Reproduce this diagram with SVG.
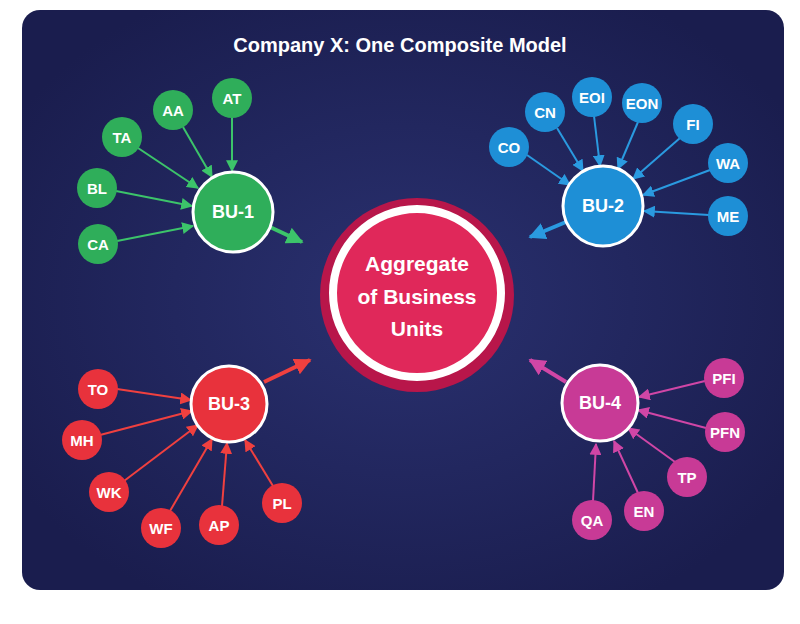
<svg xmlns="http://www.w3.org/2000/svg" width="800" height="624" viewBox="0 0 800 624">
<defs>
<radialGradient id="bg" cx="50%" cy="50%" r="60%"><stop offset="0" stop-color="#2a3170"/><stop offset="1" stop-color="#1a1d4e"/></radialGradient>
<marker id="ag" viewBox="0 0 10 10" refX="9" refY="5" markerWidth="12" markerHeight="12" markerUnits="userSpaceOnUse" orient="auto"><path d="M0,0L10,5L0,10z" fill="#3cc46a"/></marker>
<marker id="ab" viewBox="0 0 10 10" refX="9" refY="5" markerWidth="12" markerHeight="12" markerUnits="userSpaceOnUse" orient="auto"><path d="M0,0L10,5L0,10z" fill="#2a9ae0"/></marker>
<marker id="ar" viewBox="0 0 10 10" refX="9" refY="5" markerWidth="12" markerHeight="12" markerUnits="userSpaceOnUse" orient="auto"><path d="M0,0L10,5L0,10z" fill="#f0403f"/></marker>
<marker id="am" viewBox="0 0 10 10" refX="9" refY="5" markerWidth="12" markerHeight="12" markerUnits="userSpaceOnUse" orient="auto"><path d="M0,0L10,5L0,10z" fill="#d046a6"/></marker>
<marker id="agT" viewBox="0 0 10 10" refX="9" refY="5" markerWidth="17" markerHeight="17" markerUnits="userSpaceOnUse" orient="auto"><path d="M0,0L10,5L0,10z" fill="#3cc46a"/></marker>
<marker id="abT" viewBox="0 0 10 10" refX="9" refY="5" markerWidth="17" markerHeight="17" markerUnits="userSpaceOnUse" orient="auto"><path d="M0,0L10,5L0,10z" fill="#2a9ae0"/></marker>
<marker id="arT" viewBox="0 0 10 10" refX="9" refY="5" markerWidth="17" markerHeight="17" markerUnits="userSpaceOnUse" orient="auto"><path d="M0,0L10,5L0,10z" fill="#f0403f"/></marker>
<marker id="amT" viewBox="0 0 10 10" refX="9" refY="5" markerWidth="17" markerHeight="17" markerUnits="userSpaceOnUse" orient="auto"><path d="M0,0L10,5L0,10z" fill="#d046a6"/></marker>
</defs>
<style>
text{font-family:"Liberation Sans",Arial,sans-serif;font-weight:bold;fill:#fff;text-anchor:middle;dominant-baseline:central}
.s{font-size:15px}.b{font-size:18px}
.g{fill:#2fae5a}.bl{fill:#1e8fd6}.r{fill:#e8323c}.m{fill:#c83a96}
.big{stroke:#fff;stroke-width:3}
.lg{stroke:#3cc46a;stroke-width:2;fill:none}.lb{stroke:#2a9ae0;stroke-width:2;fill:none}.lr{stroke:#f0403f;stroke-width:2;fill:none}.lm{stroke:#d046a6;stroke-width:2;fill:none}
.t{stroke-width:4}
</style>
<rect x="22" y="10" width="762" height="580" rx="18" fill="url(#bg)"/>
<text x="400" y="45" style="font-size:20px">Company X: One Composite Model</text>
<g id="connectors">
<line class="lg" x1="232" y1="117" x2="232" y2="171" marker-end="url(#ag)"/>
<line class="lg" x1="183" y1="127" x2="212" y2="177" marker-end="url(#ag)"/>
<line class="lg" x1="138" y1="148" x2="198" y2="188" marker-end="url(#ag)"/>
<line class="lg" x1="116" y1="191" x2="192" y2="206" marker-end="url(#ag)"/>
<line class="lg" x1="117" y1="241" x2="193" y2="226" marker-end="url(#ag)"/>
<line class="lg t" x1="270" y1="227" x2="302" y2="242" marker-end="url(#agT)"/>
<line class="lb" x1="527" y1="155" x2="570" y2="185" marker-end="url(#ab)"/>
<line class="lb" x1="557" y1="128" x2="583" y2="171" marker-end="url(#ab)"/>
<line class="lb" x1="594" y1="116" x2="600" y2="166" marker-end="url(#ab)"/>
<line class="lb" x1="638" y1="122" x2="618" y2="169" marker-end="url(#ab)"/>
<line class="lb" x1="680" y1="138" x2="633" y2="179" marker-end="url(#ab)"/>
<line class="lb" x1="710" y1="170" x2="643" y2="195" marker-end="url(#ab)"/>
<line class="lb" x1="709" y1="215" x2="644" y2="211" marker-end="url(#ab)"/>
<line class="lb t" x1="566" y1="222" x2="530" y2="237" marker-end="url(#abT)"/>
<line class="lr" x1="117" y1="389" x2="191" y2="400" marker-end="url(#ar)"/>
<line class="lr" x1="100" y1="435" x2="192" y2="411" marker-end="url(#ar)"/>
<line class="lr" x1="124" y1="481" x2="198" y2="425" marker-end="url(#ar)"/>
<line class="lr" x1="170" y1="511" x2="212" y2="439" marker-end="url(#ar)"/>
<line class="lr" x1="222" y1="506" x2="227" y2="443" marker-end="url(#ar)"/>
<line class="lr" x1="273" y1="486" x2="245" y2="440" marker-end="url(#ar)"/>
<line class="lr t" x1="264" y1="382" x2="310" y2="360" marker-end="url(#arT)"/>
<line class="lm" x1="705" y1="381" x2="639" y2="397" marker-end="url(#am)"/>
<line class="lm" x1="706" y1="428" x2="638" y2="410" marker-end="url(#am)"/>
<line class="lm" x1="675" y1="462" x2="628" y2="428" marker-end="url(#am)"/>
<line class="lm" x1="638" y1="493" x2="614" y2="441" marker-end="url(#am)"/>
<line class="lm" x1="593" y1="501" x2="596" y2="444" marker-end="url(#am)"/>
<line class="lm t" x1="566" y1="382" x2="530" y2="360" marker-end="url(#amT)"/>
</g>
<g id="center">
<circle cx="417" cy="295" r="97" fill="#b8164a"/>
<circle cx="417" cy="293" r="84" fill="#e0285a" stroke="#fff" stroke-width="8"/>
<text x="417" y="263" style="font-size:21px">Aggregate</text>
<text x="417" y="296" style="font-size:21px">of Business</text>
<text x="417" y="328" style="font-size:21px">Units</text>
</g>
<g id="bu1"><circle class="g big" cx="233" cy="212" r="40"/><text class="b" x="233" y="212">BU-1</text></g>
<g id="at"><circle class="g" cx="232" cy="98" r="20"/><text class="s" x="232" y="98">AT</text></g>
<g id="aa"><circle class="g" cx="173" cy="110" r="20"/><text class="s" x="173" y="110">AA</text></g>
<g id="ta"><circle class="g" cx="122" cy="137" r="20"/><text class="s" x="122" y="137">TA</text></g>
<g id="bl"><circle class="g" cx="97" cy="188" r="20"/><text class="s" x="97" y="188">BL</text></g>
<g id="ca"><circle class="g" cx="98" cy="244" r="20"/><text class="s" x="98" y="244">CA</text></g>
<g id="bu2"><circle class="bl big" cx="603" cy="206" r="40"/><text class="b" x="603" y="206">BU-2</text></g>
<g id="co"><circle class="bl" cx="509" cy="147" r="20"/><text class="s" x="509" y="147">CO</text></g>
<g id="cn"><circle class="bl" cx="545" cy="112" r="20"/><text class="s" x="545" y="112">CN</text></g>
<g id="eoi"><circle class="bl" cx="592" cy="97" r="20"/><text class="s" x="592" y="97">EOI</text></g>
<g id="eon"><circle class="bl" cx="642" cy="103" r="20"/><text class="s" x="642" y="103">EON</text></g>
<g id="fi"><circle class="bl" cx="693" cy="124" r="20"/><text class="s" x="693" y="124">FI</text></g>
<g id="wa"><circle class="bl" cx="728" cy="163" r="20"/><text class="s" x="728" y="163">WA</text></g>
<g id="me"><circle class="bl" cx="728" cy="216" r="20"/><text class="s" x="728" y="216">ME</text></g>
<g id="bu3"><circle class="r big" cx="229" cy="404" r="38"/><text class="b" x="229" y="404">BU-3</text></g>
<g id="to"><circle class="r" cx="98" cy="389" r="20"/><text class="s" x="98" y="389">TO</text></g>
<g id="mh"><circle class="r" cx="82" cy="440" r="20"/><text class="s" x="82" y="440">MH</text></g>
<g id="wk"><circle class="r" cx="109" cy="492" r="20"/><text class="s" x="109" y="492">WK</text></g>
<g id="wf"><circle class="r" cx="161" cy="528" r="20"/><text class="s" x="161" y="528">WF</text></g>
<g id="ap"><circle class="r" cx="219" cy="525" r="20"/><text class="s" x="219" y="525">AP</text></g>
<g id="pl"><circle class="r" cx="282" cy="503" r="20"/><text class="s" x="282" y="503">PL</text></g>
<g id="bu4"><circle class="m big" cx="600" cy="403" r="38"/><text class="b" x="600" y="403">BU-4</text></g>
<g id="pfi"><circle class="m" cx="724" cy="378" r="20"/><text class="s" x="724" y="378">PFI</text></g>
<g id="pfn"><circle class="m" cx="725" cy="432" r="20"/><text class="s" x="725" y="432">PFN</text></g>
<g id="tp"><circle class="m" cx="687" cy="477" r="20"/><text class="s" x="687" y="477">TP</text></g>
<g id="en"><circle class="m" cx="644" cy="511" r="20"/><text class="s" x="644" y="511">EN</text></g>
<g id="qa"><circle class="m" cx="592" cy="520" r="20"/><text class="s" x="592" y="520">QA</text></g>
</svg>
